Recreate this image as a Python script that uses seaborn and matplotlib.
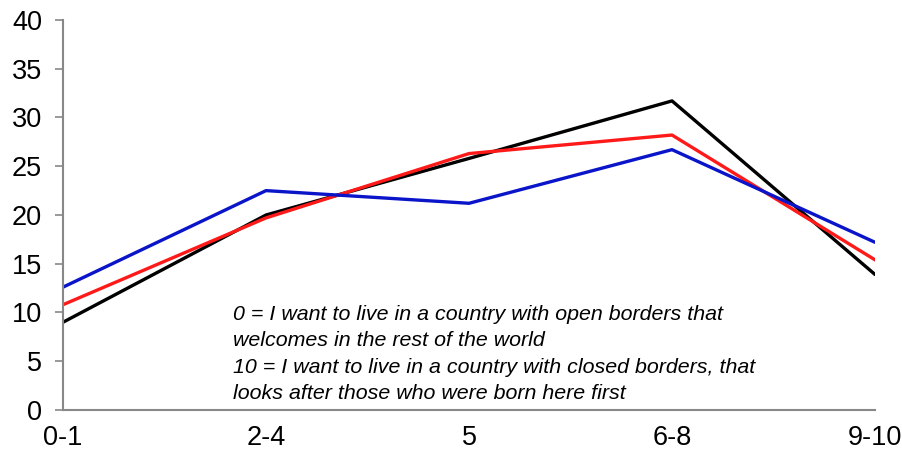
import matplotlib
matplotlib.use("Agg")
import matplotlib.pyplot as plt
import pandas as pd
import seaborn as sns

categories = ["0-1", "2-4", "5", "6-8", "9-10"]
series_black = [9.0, 20.0, 25.8, 31.7, 13.9]
series_red = [10.8, 19.7, 26.3, 28.2, 15.4]
series_blue = [12.6, 22.5, 21.2, 26.7, 17.2]

note = ("0 = I want to live in a country with open borders that\n"
        "welcomes in the rest of the world\n"
        "10 = I want to live in a country with closed borders, that\n"
        "looks after those who were born here first")

df = pd.DataFrame({
    "scale": categories * 3,
    "value": series_black + series_red + series_blue,
    "series": ["black"] * 5 + ["red"] * 5 + ["blue"] * 5,
})

sns.set_style("white")
plt.rcParams["font.family"] = ["Liberation Sans", "DejaVu Sans"]
plt.rcParams["text.color"] = "black"
plt.rcParams["xtick.color"] = "black"
plt.rcParams["ytick.color"] = "black"

fig, ax = plt.subplots(figsize=(9.03, 4.51), dpi=100)
fig.subplots_adjust(left=0.0698, right=0.969, top=0.9557, bottom=0.0909)

palette = {"black": "#000000", "red": "#ff1a1a", "blue": "#0a14c8"}
sns.lineplot(data=df, x="scale", y="value", hue="series", hue_order=["black", "red", "blue"],
             palette=palette, linewidth=2.4, legend=False, ax=ax, sort=False)

ax.set_xlim(0, len(categories) - 1)
ax.set_ylim(0, 40)
ax.set_yticks(range(0, 41, 5))
ax.set_xlabel("")
ax.set_ylabel("")

for side in ["top", "right"]:
    ax.spines[side].set_visible(False)
for side in ["left", "bottom"]:
    ax.spines[side].set_color("#888888")
    ax.spines[side].set_linewidth(1.5)

ax.tick_params(axis="y", which="major", labelsize=19.5, length=6, width=1.2,
               color="#888888", labelcolor="black", left=True, pad=9)
ax.tick_params(axis="x", which="major", labelsize=19.5, length=0, pad=11,
               labelcolor="black")

ax.text(0.209, 0.27, note, transform=ax.transAxes, fontsize=15.4, style="italic",
        color="black", va="top", ha="left", linespacing=1.5)

fig.savefig("out.png", dpi=100)
